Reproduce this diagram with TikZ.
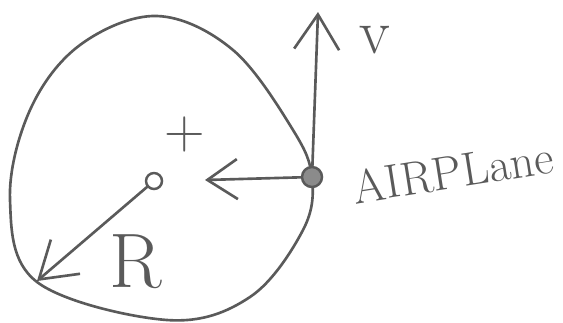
\documentclass[tikz,border=0pt]{standalone}
\usepackage{tikz}
\usetikzlibrary{arrows.meta}
\definecolor{pencil}{RGB}{90,90,90}

\begin{document}
\begin{tikzpicture}[
      x=0.02cm,y=-0.02cm,>={Straight Barb[length=7mm,width=9mm]},
      stroke/.style={draw=pencil,line width=1.5pt,line cap=round,line join=round},
      pivot/.style={circle,draw=pencil,line width=1.4pt,minimum size=3.2mm,inner sep=0pt},
      plane/.style={circle,draw=pencil,fill=pencil!70,line width=1.4pt,minimum size=4mm,inner sep=0pt},
      hand/.style={text=pencil,inner sep=0pt}]
    \useasboundingbox (0,0) rectangle (563,322);
    % orbit
    \draw[stroke] plot[smooth cycle,tension=0.6] coordinates {(157,16) (233,50) (293,130) (312,178) (303,230) (250,297) (167,320) (37,282) (10,200) (30,110) (80,45)};
    \node[pivot] (centre) at (154,181) {};
    \node[plane] (plane) at (312,177) {};
    \coordinate (rim) at (37,281);
    \coordinate (vtip) at (318,12);
    \coordinate (inward) at (205,180);
    \draw[stroke,->] (centre) -- (rim);
    \draw[stroke,->] (plane) -- (vtip);
    \draw[stroke,{Straight Barb[length=6mm,width=8mm]}-] (inward) -- (plane);
    \node[hand,font=\fontsize{32}{32}\selectfont] (cross) at (185,134) {+};
    \node[hand,font=\fontsize{36}{36}\selectfont] (vlabel) at (375,40) {v};
    \node[hand,font=\fontsize{44}{44}\selectfont] (rlabel) at (136,262) {R};
    \node[hand,font=\fontsize{27}{27}\selectfont,rotate=9] (plabel) at (453,172) {AIRPLane};
  \end{tikzpicture}
\end{document}
